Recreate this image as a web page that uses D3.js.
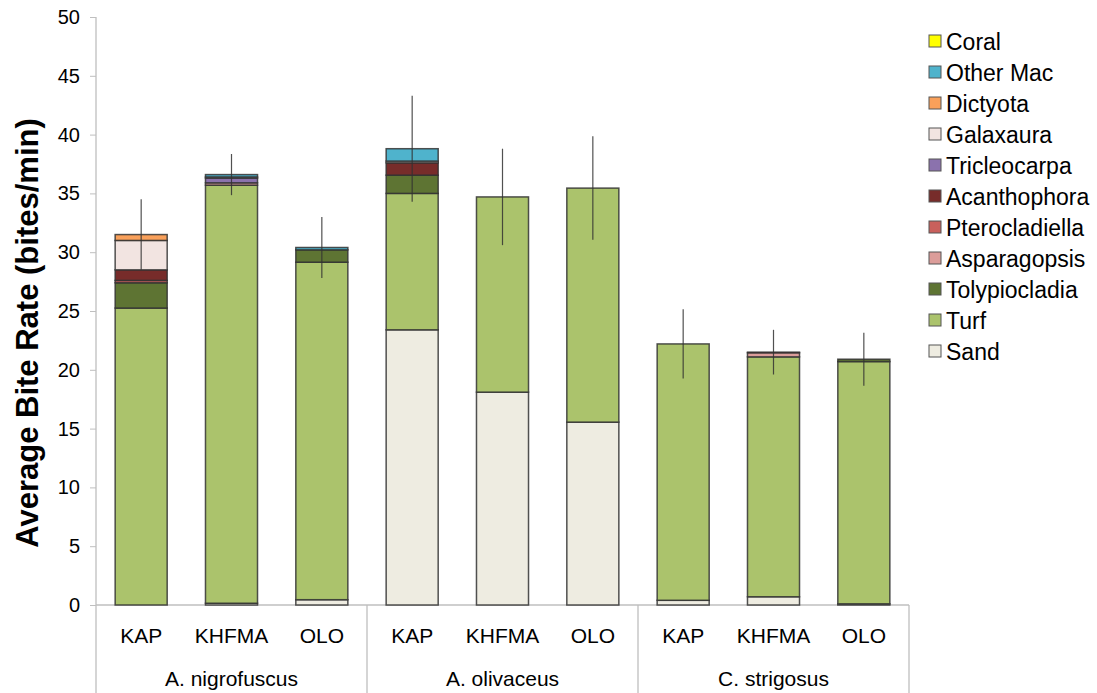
<!DOCTYPE html>
<html>
<head>
<meta charset="utf-8">
<script src="https://cdn.jsdelivr.net/npm/d3@7"></script>
<style>
  body { margin: 0; background: #fff; }
  svg { display: block; font-family: "Liberation Sans", Arial, sans-serif; }
</style>
</head>
<body>
<div id="chart"></div>
<script>
// species groups and sites
const species = ['A. nigrofuscus', 'A. olivaceus', 'C. strigosus'];
const sites = ['KAP', 'KHFMA', 'OLO'];

// stacking order, bottom to top
const foods = ['Sand', 'Turf', 'Tolypiocladia', 'Asparagopsis', 'Pterocladiella', 'Acanthophora',
               'Tricleocarpa', 'Galaxaura', 'Dictyota', 'Other Mac', 'Coral'];
const foodColors = ['#eeece1', '#abc36c', '#5e7433', '#dc9d9a', '#c9605c', '#772c2a',
                    '#8b72ad', '#f2e4e1', '#f9a05a', '#4fb3cc', '#ffff00'];

// segment values per bar (bites/min), one array per food, in bar order
// bars: nigro KAP, KHFMA, OLO, oliv KAP, KHFMA, OLO, strig KAP, KHFMA, OLO
const sand           = [0,     0.15, 0.45, 23.4,  18.1, 15.55, 0.4,  0.7,  0.1];
const turf           = [25.25, 35.55, 28.7, 11.6, 16.6, 19.9,  21.8, 20.4, 20.6];
const tolypiocladia  = [2.15,  0,    1.05, 1.55,  0,    0,     0,    0,    0.2];
const asparagopsis   = [0,     0.2,  0,    0,     0,    0,     0,    0.35, 0];
const pterocladiella = [0.2,   0,    0,    0,     0,    0,     0,    0,    0];
const acanthophora   = [0.9,   0,    0,    1.05,  0,    0,     0,    0.05, 0];
const tricleocarpa   = [0,     0.4,  0,    0,     0,    0,     0,    0,    0];
const galaxaura      = [2.5,   0.1,  0,    0.15,  0,    0,     0,    0,    0];
const dictyota       = [0.5,   0,    0,    0,     0,    0,     0,    0,    0];
const otherMac       = [0,     0.2,  0.2,  1.05,  0,    0,     0,    0,    0];
const coral          = [0,     0,    0,    0,     0,    0,     0,    0,    0];
const errors         = [3.0,   1.75, 2.6,  4.5,   4.1,  4.4,   2.95, 1.9,  2.25];

const yTicks = [0, 5, 10, 15, 20, 25, 30, 35, 40, 45, 50];

const series = [sand, turf, tolypiocladia, asparagopsis, pterocladiella, acanthophora,
                tricleocarpa, galaxaura, dictyota, otherMac, coral];

// build rows for d3.stack
const bars = [];
species.forEach(function(sp) {
    sites.forEach(function(site) { bars.push({ species: sp, site: site, key: sp + '|' + site }); });
});
bars.forEach(function(b, i) {
    foods.forEach(function(f, j) { b[f] = series[j][i]; });
    b.err = errors[i];
});

const width = 1097, height = 693;
const margin = { top: 17, left: 96, bottom: 88 };
const plotRight = 909;
const y0 = height - margin.bottom;

const svg = d3.select('#chart').append('svg')
    .attr('width', width)
    .attr('height', height);

const x = d3.scaleBand()
    .domain(bars.map(function(d) { return d.key; }))
    .range([margin.left, plotRight])
    .paddingInner(0.424)
    .paddingOuter(0.212);

const y = d3.scaleLinear().domain([0, 50]).range([y0, margin.top]);

const color = d3.scaleOrdinal().domain(foods).range(foodColors);

const stacked = d3.stack().keys(foods)(bars);

// y axis
const yAxis = svg.append('g')
    .attr('transform', 'translate(' + margin.left + ',0)')
    .call(d3.axisLeft(y).tickValues(yTicks).tickSize(6).tickSizeOuter(0).tickPadding(10));
yAxis.select('.domain').remove();
yAxis.selectAll('.tick line').attr('stroke', '#bfbfbf');
yAxis.selectAll('.tick text')
    .attr('fill', '#000')
    .style('font-size', '20px');

// axis lines + group separators
svg.append('line')
    .attr('x1', margin.left).attr('x2', margin.left)
    .attr('y1', margin.top).attr('y2', height)
    .attr('stroke', '#bfbfbf').attr('stroke-width', 1.3);
svg.append('line')
    .attr('x1', margin.left).attr('x2', plotRight)
    .attr('y1', y0).attr('y2', y0)
    .attr('stroke', '#bfbfbf').attr('stroke-width', 1.3);

const groupEdges = species.map(function(sp) { return x(sp + '|' + sites[sites.length - 1]) + x.bandwidth() + x.step() * x.paddingOuter(); });
svg.selectAll('line.sep')
    .data(groupEdges)
    .join('line')
    .attr('class', 'sep')
    .attr('x1', function(d) { return d; }).attr('x2', function(d) { return d; })
    .attr('y1', y0).attr('y2', height)
    .attr('stroke', '#bfbfbf').attr('stroke-width', 1.3);

// stacked bars
const layers = svg.append('g').selectAll('g.layer')
    .data(stacked)
    .join('g')
    .attr('class', 'layer')
    .attr('fill', function(d) { return color(d.key); });

layers.selectAll('rect')
    .data(function(d) { return d.filter(function(s) { return s[1] - s[0] > 0; }); })
    .join('rect')
    .attr('x', function(d) { return x(d.data.key); })
    .attr('y', function(d) { return y(d[1]); })
    .attr('width', x.bandwidth())
    .attr('height', function(d) { return y(d[0]) - y(d[1]); })
    .attr('stroke', '#333')
    .attr('stroke-opacity', 0.85)
    .attr('stroke-width', 1.5);

// error bars
const totals = bars.map(function(b) { return d3.sum(foods, function(f) { return b[f]; }); });
svg.append('g').selectAll('line.err')
    .data(bars)
    .join('line')
    .attr('class', 'err')
    .attr('x1', function(d) { return x(d.key) + x.bandwidth() / 2; })
    .attr('x2', function(d) { return x(d.key) + x.bandwidth() / 2; })
    .attr('y1', function(d, i) { return y(totals[i] + d.err); })
    .attr('y2', function(d, i) { return y(totals[i] - d.err); })
    .attr('stroke', '#333')
    .attr('stroke-opacity', 0.85)
    .attr('stroke-width', 1.2);

// site labels
svg.append('g').selectAll('text.site')
    .data(bars)
    .join('text')
    .attr('class', 'site')
    .attr('x', function(d) { return x(d.key) + x.bandwidth() / 2; })
    .attr('y', 643)
    .attr('text-anchor', 'middle')
    .style('font-size', '21px')
    .text(function(d) { return d.site; });

// species labels
svg.append('g').selectAll('text.species')
    .data(species)
    .join('text')
    .attr('class', 'species')
    .attr('x', function(d) { return x(d + '|' + sites[1]) + x.bandwidth() / 2; })
    .attr('y', 686)
    .attr('text-anchor', 'middle')
    .style('font-size', '21px')
    .text(function(d) { return d; });

// y axis title
svg.append('text')
    .attr('transform', 'translate(38,' + ((margin.top + y0) / 2 + 22) + ') rotate(-90)')
    .attr('text-anchor', 'middle')
    .style('font-size', '31px')
    .style('font-weight', 'bold')
    .text('Average Bite Rate (bites/min)');

// legend, top to bottom reversed from stack order
const legendItems = foods.slice().reverse();
const legend = svg.append('g').attr('transform', 'translate(929,42)');
const li = legend.selectAll('g')
    .data(legendItems)
    .join('g')
    .attr('transform', function(d, i) { return 'translate(0,' + (i * 31) + ')'; });
li.append('rect')
    .attr('x', 0).attr('y', -7)
    .attr('width', 12).attr('height', 12)
    .attr('fill', function(d) { return color(d); })
    .attr('stroke', '#555').attr('stroke-width', 1);
li.append('text')
    .attr('x', 17).attr('y', 8)
    .style('font-size', '23px')
    .text(function(d) { return d; });
</script>
</body>
</html>
